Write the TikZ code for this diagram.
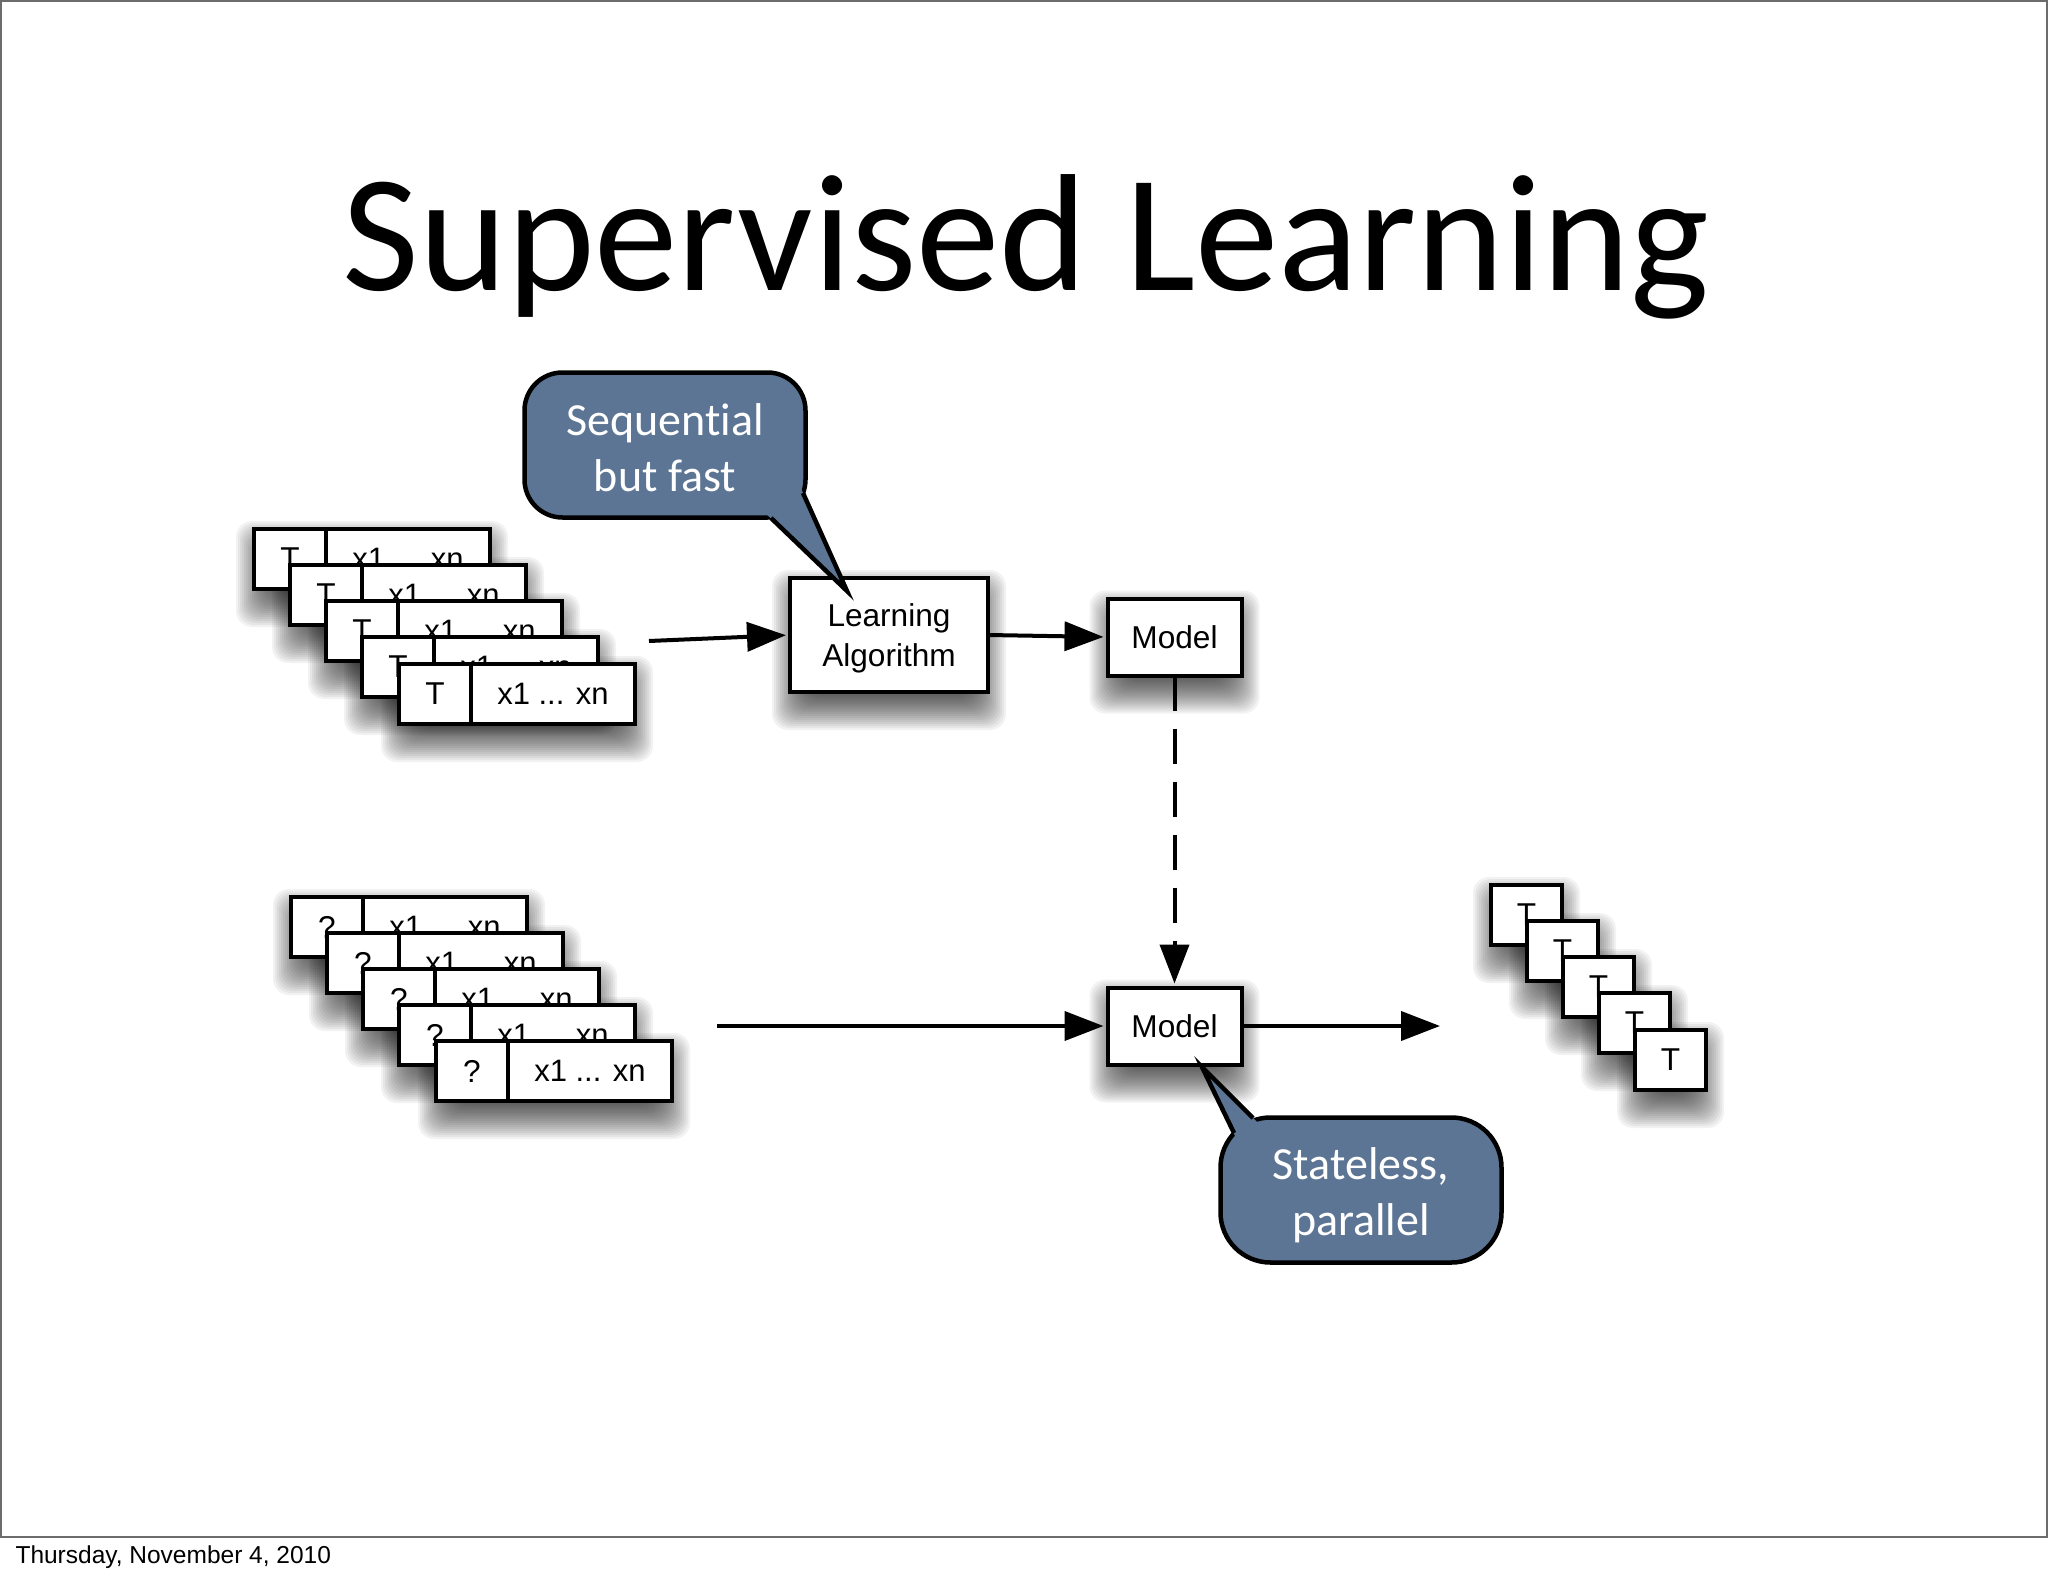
\documentclass[tikz,border=0pt]{standalone}
\usepackage{fontspec}
\setmainfont{Liberation Sans}
\newfontfamily\gillfont[Ligatures=NoCommon]{Carlito}
\usetikzlibrary{positioning,arrows.meta,backgrounds}
\definecolor{bubbleblue}{HTML}{5D7594}
\tikzset{
  softpiece/.style={fill=black,fill opacity=.05,rounded corners=16pt},
  plainbox/.style={draw=black,fill=white,line width=4pt,inner sep=0pt,outer sep=0pt,align=center,
    font=\fontsize{31.6}{40}\selectfont},
  tcell/.style={plainbox,minimum width=72pt,minimum height=60pt},
  xcell/.style={plainbox,minimum width=164pt,minimum height=60pt,font=\fontsize{31}{40}\selectfont},
  model/.style={plainbox,minimum width=134pt,minimum height=77pt},
  bubble/.style={draw=black,fill=bubbleblue,line width=4.5pt,text=white,align=center,inner sep=0pt,
    minimum width=281pt,minimum height=145pt,font=\gillfont\fontsize{46}{56}\selectfont},
  tailfill/.style={fill=bubbleblue},
  tailline/.style={draw=black,line width=4.5pt,line join=miter},
  flow/.style={draw=black,line width=4pt,-{Triangle[length=39pt,width=29pt]},shorten >=4pt},
}
\begin{document}
\begin{tikzpicture}[x=1pt,y=-1pt]
  \useasboundingbox (0,0) rectangle (2048,1576);
  \draw[gray!85!black,line width=1.5pt] (0.8,0.8) rectangle (2047.2,1537);
  \node[anchor=base,font=\gillfont\fontsize{167}{190}\selectfont] (title) at (1026,290) {Supervised Learning};
  \node[anchor=base west,font=\fontsize{24.5}{29}\selectfont] (date) at (12,1563) {Thursday, November 4, 2010};

  % training examples
  \foreach \i/\cx/\cy in {1/254/529,2/290/565,3/326/601,4/362/637,5/399/664} {
    \node[tcell,anchor=north west] (tcell\i) at (\cx,\cy) {T};
    \node[xcell,right=0pt of tcell\i] (xcell\i) {x1 ... xn};
  }
  % unlabelled examples
  \foreach \i/\cx/\cy in {1/291/897,2/327/933,3/363/969,4/399/1005,5/436/1041} {
    \node[tcell,anchor=north west] (qcell\i) at (\cx,\cy) {?};
    \node[xcell,right=0pt of qcell\i] (ycell\i) {x1 ... xn};
  }
  % predicted targets
  \foreach \i/\cx/\cy in {1/1491/885,2/1527/921,3/1563/957,4/1599/993,5/1635/1030} {
    \node[tcell,anchor=north west,minimum width=71pt] (rcell\i) at (\cx,\cy) {T};
  }

  \node[plainbox,minimum width=198pt,minimum height=114pt] (learn) at (889,635) {\rule{0pt}{29pt}Learning\\Algorithm};
  \node[model] (modela) at (1174.5,637) {Model};
  \node[model] (modelb) at (1174.5,1026) {Model};

  \coordinate (trainout) at (649,641);
  \coordinate (testout) at (717,1026);
  \coordinate (resultin) at (1444,1026);
  \draw[flow] (trainout) -- (learn.west);
  \draw[flow] (learn.east) -- (modela.west);
  \draw[flow] (testout) -- (modelb.west);
  \draw[flow] (modelb.east) -- (resultin);
  \draw[flow,dash pattern=on 35pt off 18pt] (modela.south) -- (modelb.north);

  \node[bubble,rounded corners=38pt] (seqnote) at (665,445) {\rule{0pt}{38pt}Sequential\\but fast};
  \coordinate (seqtip) at (847,591);
  \coordinate (seqa) at (803,493);
  \coordinate (seqb) at (771,518);
  \fill[tailfill] (799,484) -- (seqtip) -- (763,511) -- cycle;
  \draw[tailline] (seqa) -- (seqtip) -- (seqb);

  \node[bubble,rounded corners=50pt] (statenote) at (1361,1190) {\rule{0pt}{42pt}Stateless,\\parallel};
  \coordinate (statetip) at (1202,1067);
  \coordinate (statea) at (1253,1118);
  \coordinate (stateb) at (1234,1133);
  \fill[tailfill] (1258,1123) -- (statetip) -- (1237,1140) -- cycle;
  \draw[tailline] (statea) -- (statetip) -- (stateb);

  \begin{scope}[on background layer]
    \foreach \a/\b in {tcell1/xcell1,tcell2/xcell2,tcell3/xcell3,tcell4/xcell4,tcell5/xcell5,
        qcell1/ycell1,qcell2/ycell2,qcell3/ycell3,qcell4/ycell4,qcell5/ycell5,
        rcell1/rcell1,rcell2/rcell2,rcell3/rcell3,rcell4/rcell4,rcell5/rcell5,
        learn/learn,modela/modela,modelb/modelb}
      \foreach \d in {-14,-12,...,24} {
        \fill[softpiece] ([xshift={(6-\d)*1pt},yshift={(\d-16)*1pt}]\a.north west)
          rectangle ([xshift={(\d-6)*1pt},yshift={(-14-\d)*1pt}]\b.south east);
      }
  \end{scope}
\end{tikzpicture}
\end{document}
